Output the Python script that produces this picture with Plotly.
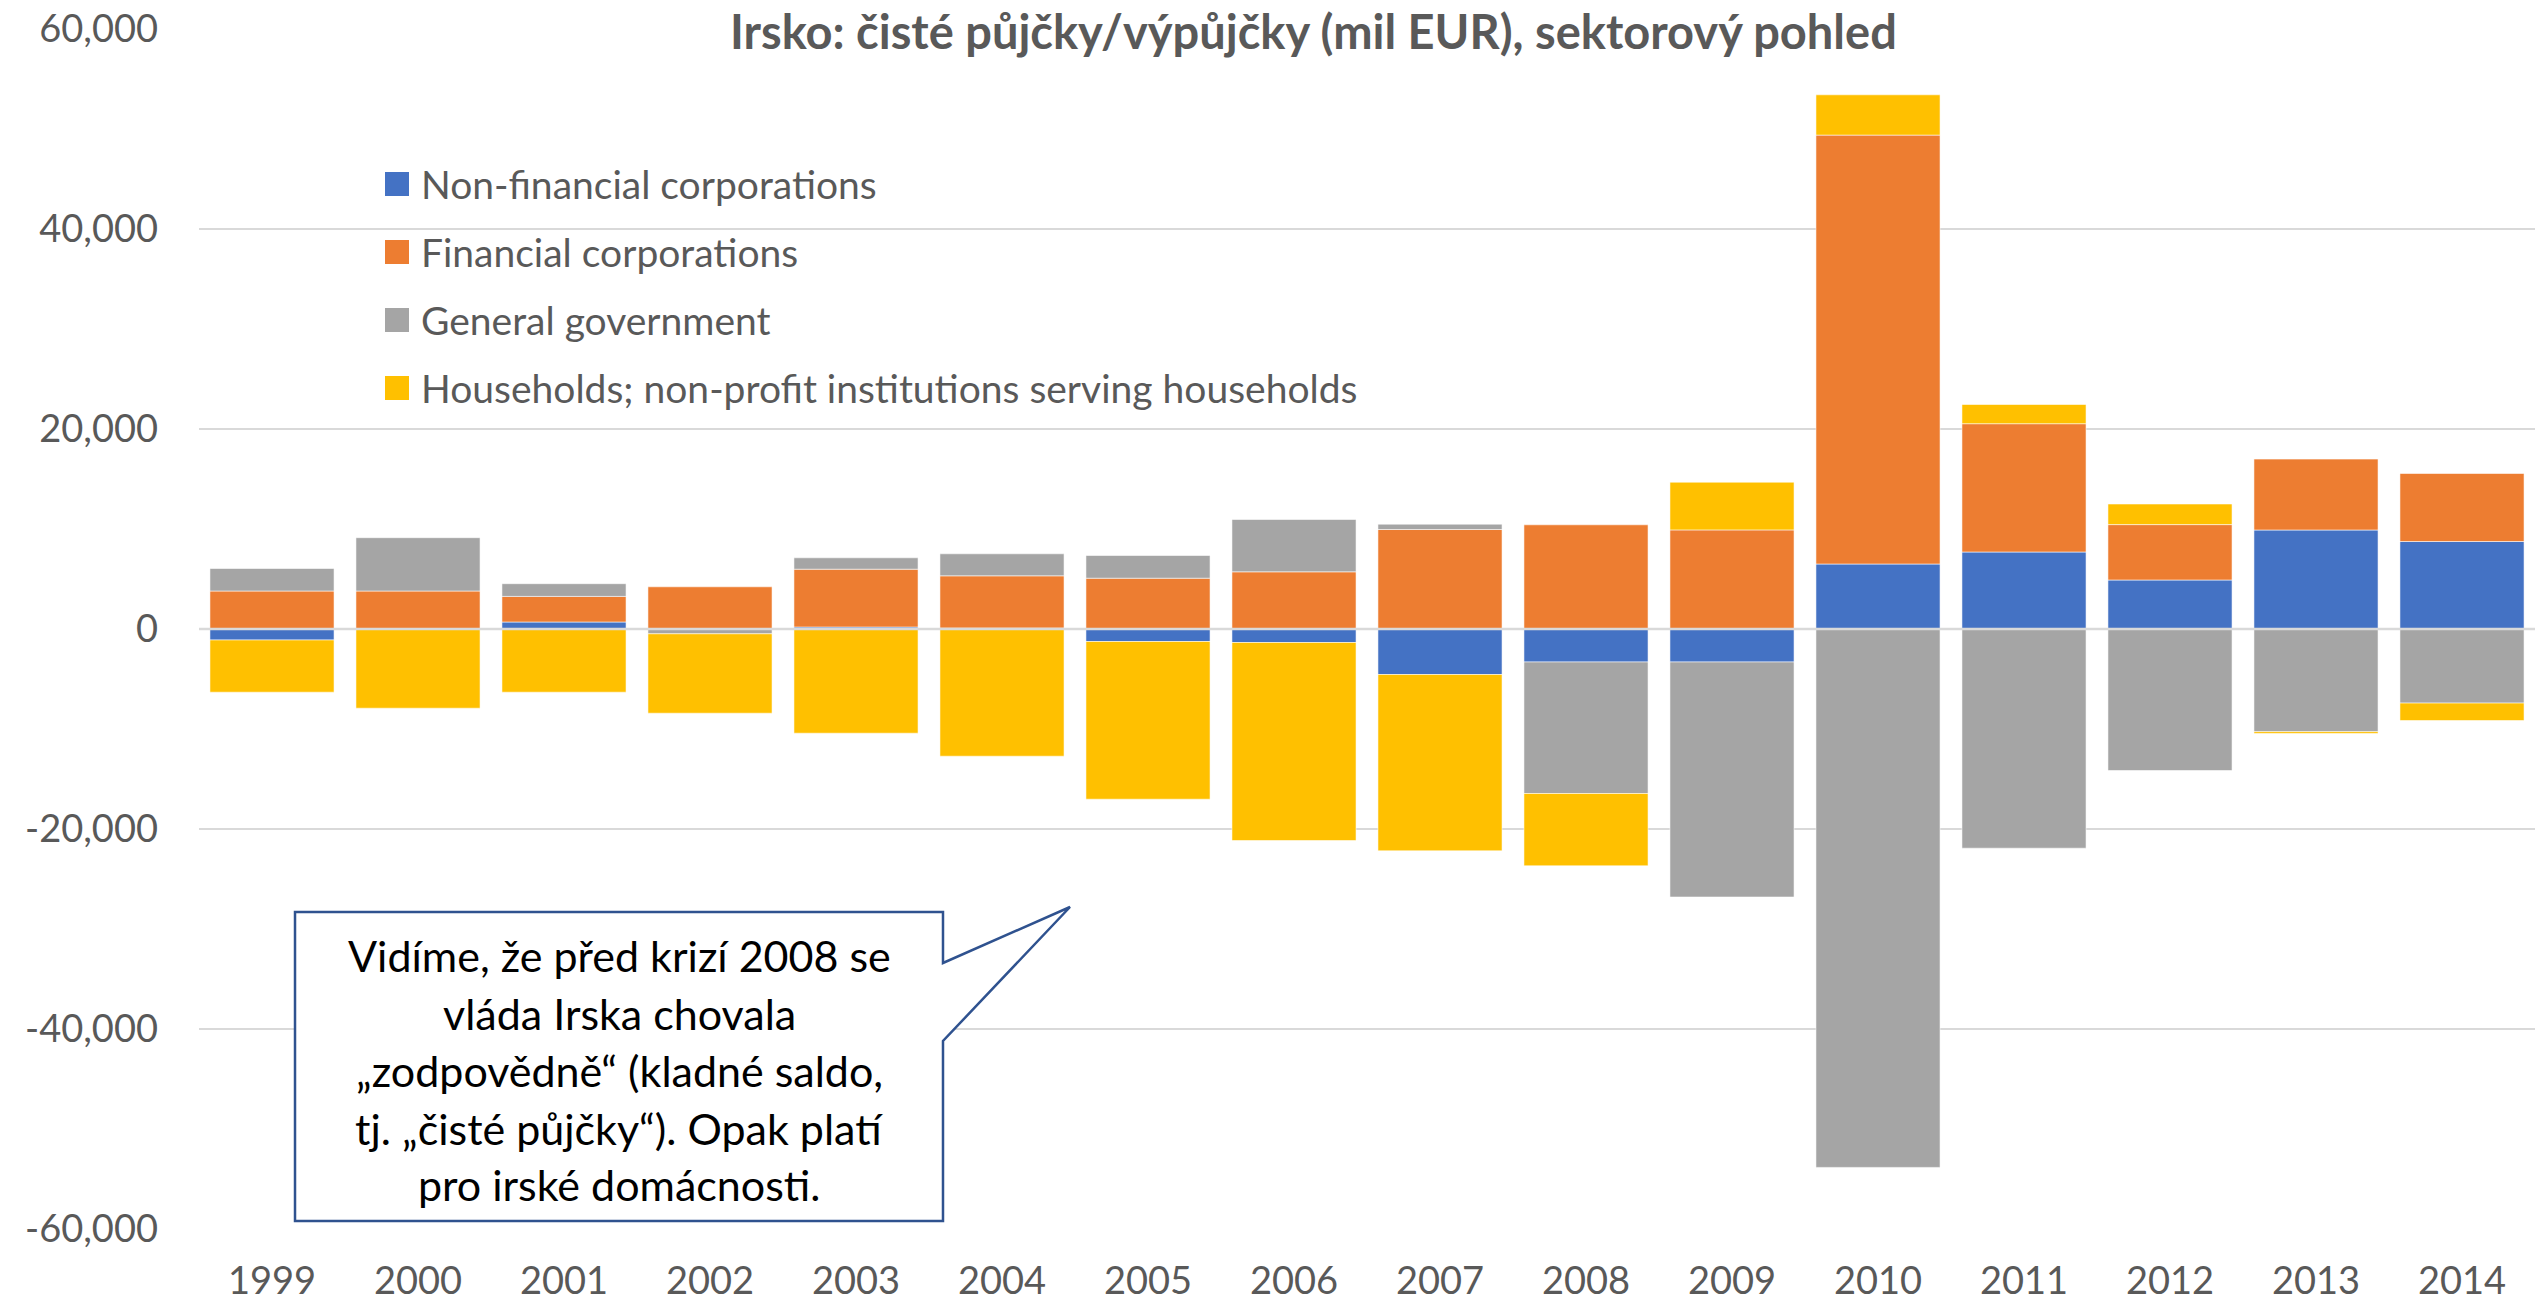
import plotly.graph_objects as go

# ---------------- data (mil EUR) ----------------
years = [str(y) for y in range(1999, 2015)]
non_financial = [-1100, 0, 700, 0, 200, 100, -1250, -1350, -4550, -3300, -3300, 6500, 7700, 4900, 9900, 8750]
financial = [3800, 3800, 2560, 4220, 5780, 5220, 5080, 5720, 9950, 10420, 9910, 42890, 12830, 5540, 7090, 6800]
government = [2250, 5330, 1270, -480, 1140, 2200, 2270, 5230, 530, -13150, -23500, -53840, -21920, -14150, -10270, -7410]
households = [-5220, -7920, -6320, -7940, -10420, -12720, -15770, -19800, -17630, -7230, 4770, 4030, 1920, 2060, -180, -1740]

series_names = ["Non-financial corporations", "Financial corporations",
                "General government", "Households; non-profit institutions serving households"]
series_values = [non_financial, financial, government, households]
series_colors = ["#4472C4", "#ED7D31", "#A5A5A5", "#FFC000"]

y_tick_vals = [-60000, -40000, -20000, 0, 20000, 40000, 60000]
y_tick_text = ["-60,000", "-40,000", "-20,000", "0", "20,000", "40,000", "60,000"]

title_text = "Irsko: čisté půjčky/výpůjčky (mil EUR), sektorový pohled"
callout_lines = ["Vidíme, že před krizí 2008 se",
                 "vláda Irska chovala",
                 "„zodpovědně“ (kladné saldo,",
                 "tj. „čisté půjčky“). Opak platí",
                 "pro irské domácnosti."]

# ---------------- layout constants ----------------
W, H = 2539, 1303
PL, PR, PT, PB = 199, 2535, 29, 1229   # plot area in pixels
FONT = "Lato"
GREY_TXT = "#595959"
GRID = "#D9D9D9"


def px(x):
    return (x - PL) / (PR - PL)


def py(y):
    return (PB - y) / (PB - PT)


fig = go.Figure()
for name, vals, col in zip(series_names, series_values, series_colors):
    fig.add_trace(go.Bar(x=years, y=vals, name=name, showlegend=False,
                         marker=dict(color=col, line=dict(color="rgba(255,255,255,0.55)", width=1))))

shapes = []
annotations = []

# horizontal axis line at zero, drawn above the bars
shapes.append(dict(type="line", xref="paper", yref="y", x0=0, x1=1, y0=0, y1=0,
                   line=dict(color=GRID, width=2.5), layer="above"))

# title with white background over the top gridline
annotations.append(dict(x=px(1313), y=py(31), xref="paper", yref="paper", text="<b>" + title_text + "</b>",
                        showarrow=False, xanchor="center", yanchor="middle", bgcolor="white", borderpad=0,
                        font=dict(family=FONT, size=47, color=GREY_TXT)))

# legend (manual, to match swatch size and spacing)
leg_y = [184, 252, 320, 388]
for name, col, ly in zip(series_names, series_colors, leg_y):
    shapes.append(dict(type="rect", xref="paper", yref="paper", x0=px(385), x1=px(409),
                       y0=py(ly + 12), y1=py(ly - 12), fillcolor=col, line=dict(width=0), layer="above"))
    annotations.append(dict(x=px(419), y=py(ly), xref="paper", yref="paper", text=name, showarrow=False,
                            xanchor="left", yanchor="middle", font=dict(family=FONT, size=39, color=GREY_TXT)))

# callout box
pts = [(295, 912), (943, 912), (943, 963), (1070, 907), (943, 1041), (943, 1221), (295, 1221)]
path = "M " + " L ".join(f"{px(a):.5f},{py(b):.5f}" for a, b in pts) + " Z"
shapes.append(dict(type="path", xref="paper", yref="paper", path=path, fillcolor="white",
                   line=dict(color="#2F528F", width=2.5), layer="above"))
line_y = [955, 1013, 1070, 1128, 1184]
for t, ly in zip(callout_lines, line_y):
    annotations.append(dict(x=px(619), y=py(ly), xref="paper", yref="paper", text=t, showarrow=False,
                            xanchor="center", yanchor="middle", font=dict(family=FONT, size=43, color="black")))

fig.update_layout(
    width=W, height=H,
    margin=dict(l=PL, r=W - PR, t=PT, b=H - PB, pad=0, autoexpand=False),
    barmode="relative", bargap=0.15,
    plot_bgcolor="white", paper_bgcolor="white",
    font=dict(family=FONT, color=GREY_TXT),
    shapes=shapes, annotations=annotations,
    xaxis=dict(type="category", showgrid=False, showline=False, ticks="", zeroline=False, automargin=False,
               tickfont=dict(family=FONT, size=38, color=GREY_TXT), ticklabelstandoff=26),
    yaxis=dict(range=[-60000, 60000], tickvals=y_tick_vals, ticktext=y_tick_text, automargin=False,
               showgrid=True, gridcolor=GRID, gridwidth=2,
               zeroline=False,
               showline=False, ticks="", tickfont=dict(family=FONT, size=38, color=GREY_TXT),
               ticklabelstandoff=40),
)

fig.write_html("out.html", config={"displayModeBar": False},
               post_script="document.body.style.margin='0';")
